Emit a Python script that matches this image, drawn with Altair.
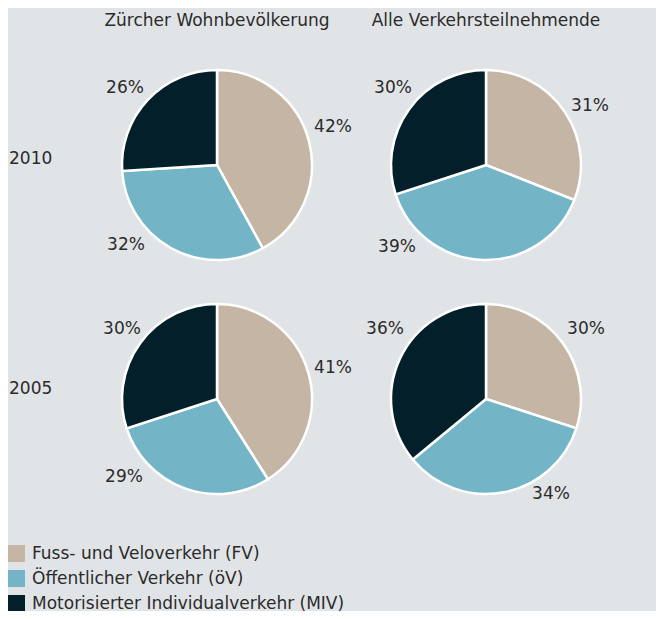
import altair as alt
import pandas as pd

# ---- data ----
categories = ["Fuss- und Veloverkehr (FV)", "Öffentlicher Verkehr (öV)", "Motorisierter Individualverkehr (MIV)"]
colors = ["#c4b5a5", "#73b5c6", "#03202a"]
years = ["2010", "2005"]
groups = ["Zürcher Wohnbevölkerung", "Alle Verkehrsteilnehmende"]
share_zh_2010 = [42, 32, 26]
share_all_2010 = [31, 39, 30]
share_zh_2005 = [41, 29, 30]
share_all_2005 = [30, 34, 36]

# ---- layout (page px minus 8px margin) ----
OFF = 8
R = 95
centers = {
    ("2010", 0): (217, 165),
    ("2010", 1): (486, 165),
    ("2005", 0): (217, 399),
    ("2005", 1): (486, 399),
}
label_pos = {
    ("2010", 0): [(333, 127), (126, 245), (125, 88)],
    ("2010", 1): [(590, 106), (397, 247), (393, 88)],
    ("2005", 0): [(333, 368), (124, 477), (122, 329)],
    ("2005", 1): [(586, 329), (551, 494), (385, 329)],
}
shares = {
    ("2010", 0): share_zh_2010,
    ("2010", 1): share_all_2010,
    ("2005", 0): share_zh_2005,
    ("2005", 1): share_all_2005,
}

FONT = "DejaVu Sans"
FS = 17
TXT = "#2b2b2b"
color_scale = alt.Scale(domain=categories, range=colors)

layers = []
for key, vals in shares.items():
    df = pd.DataFrame({"cat": categories, "val": vals, "idx": [0, 1, 2]})
    cx, cy = centers[key]
    first = key == ("2010", 0)
    arc = alt.Chart(df).mark_arc(radius=R, stroke="white", strokeWidth=2.5).encode(
        x=alt.value(cx - OFF),
        y=alt.value(cy - OFF),
        theta=alt.Theta("val:Q", stack=True),
        order=alt.Order("idx:Q", sort="ascending"),
        color=alt.Color(
            "cat:N",
            scale=color_scale,
            legend=alt.Legend(
                title=None,
                orient="none",
                legendX=0,
                legendY=537,
                symbolType="square",
                symbolSize=289,
                symbolStrokeWidth=0,
                labelFont=FONT,
                labelFontSize=FS,
                labelColor=TXT,
                labelOffset=7,
                rowPadding=7,
                labelLimit=500,
                padding=0,
            ) if first else None,
        ),
    )
    layers.append(arc)
    for i, (lx, ly) in enumerate(label_pos[key]):
        tdf = pd.DataFrame({"t": [f"{vals[i]}%"]})
        layers.append(
            alt.Chart(tdf).mark_text(font=FONT, fontSize=FS, color=TXT, align="center", baseline="middle").encode(
                x=alt.value(lx - OFF), y=alt.value(ly - OFF), text="t:N"
            )
        )

# titles
for gi, g in enumerate(groups):
    cx = centers[("2010", gi)][0]
    layers.append(
        alt.Chart(pd.DataFrame({"t": [g]})).mark_text(font=FONT, fontSize=FS, color=TXT, align="center", baseline="middle").encode(
            x=alt.value(cx - OFF), y=alt.value(21 - OFF), text="t:N"
        )
    )
# row labels
for y in years:
    cy = 159 if y == "2010" else 389
    layers.append(
        alt.Chart(pd.DataFrame({"t": [y]})).mark_text(font=FONT, fontSize=FS, color=TXT, align="left", baseline="middle").encode(
            x=alt.value(9 - OFF), y=alt.value(cy - OFF), text="t:N"
        )
    )

chart = alt.layer(*layers).properties(
    width=648, height=603, background="#e1e4e7", padding=0,
    autosize=alt.AutoSizeParams(type="none"),
).configure_view(stroke=None)

chart.save("out.html", embed_options={"renderer": "svg", "actions": False})
